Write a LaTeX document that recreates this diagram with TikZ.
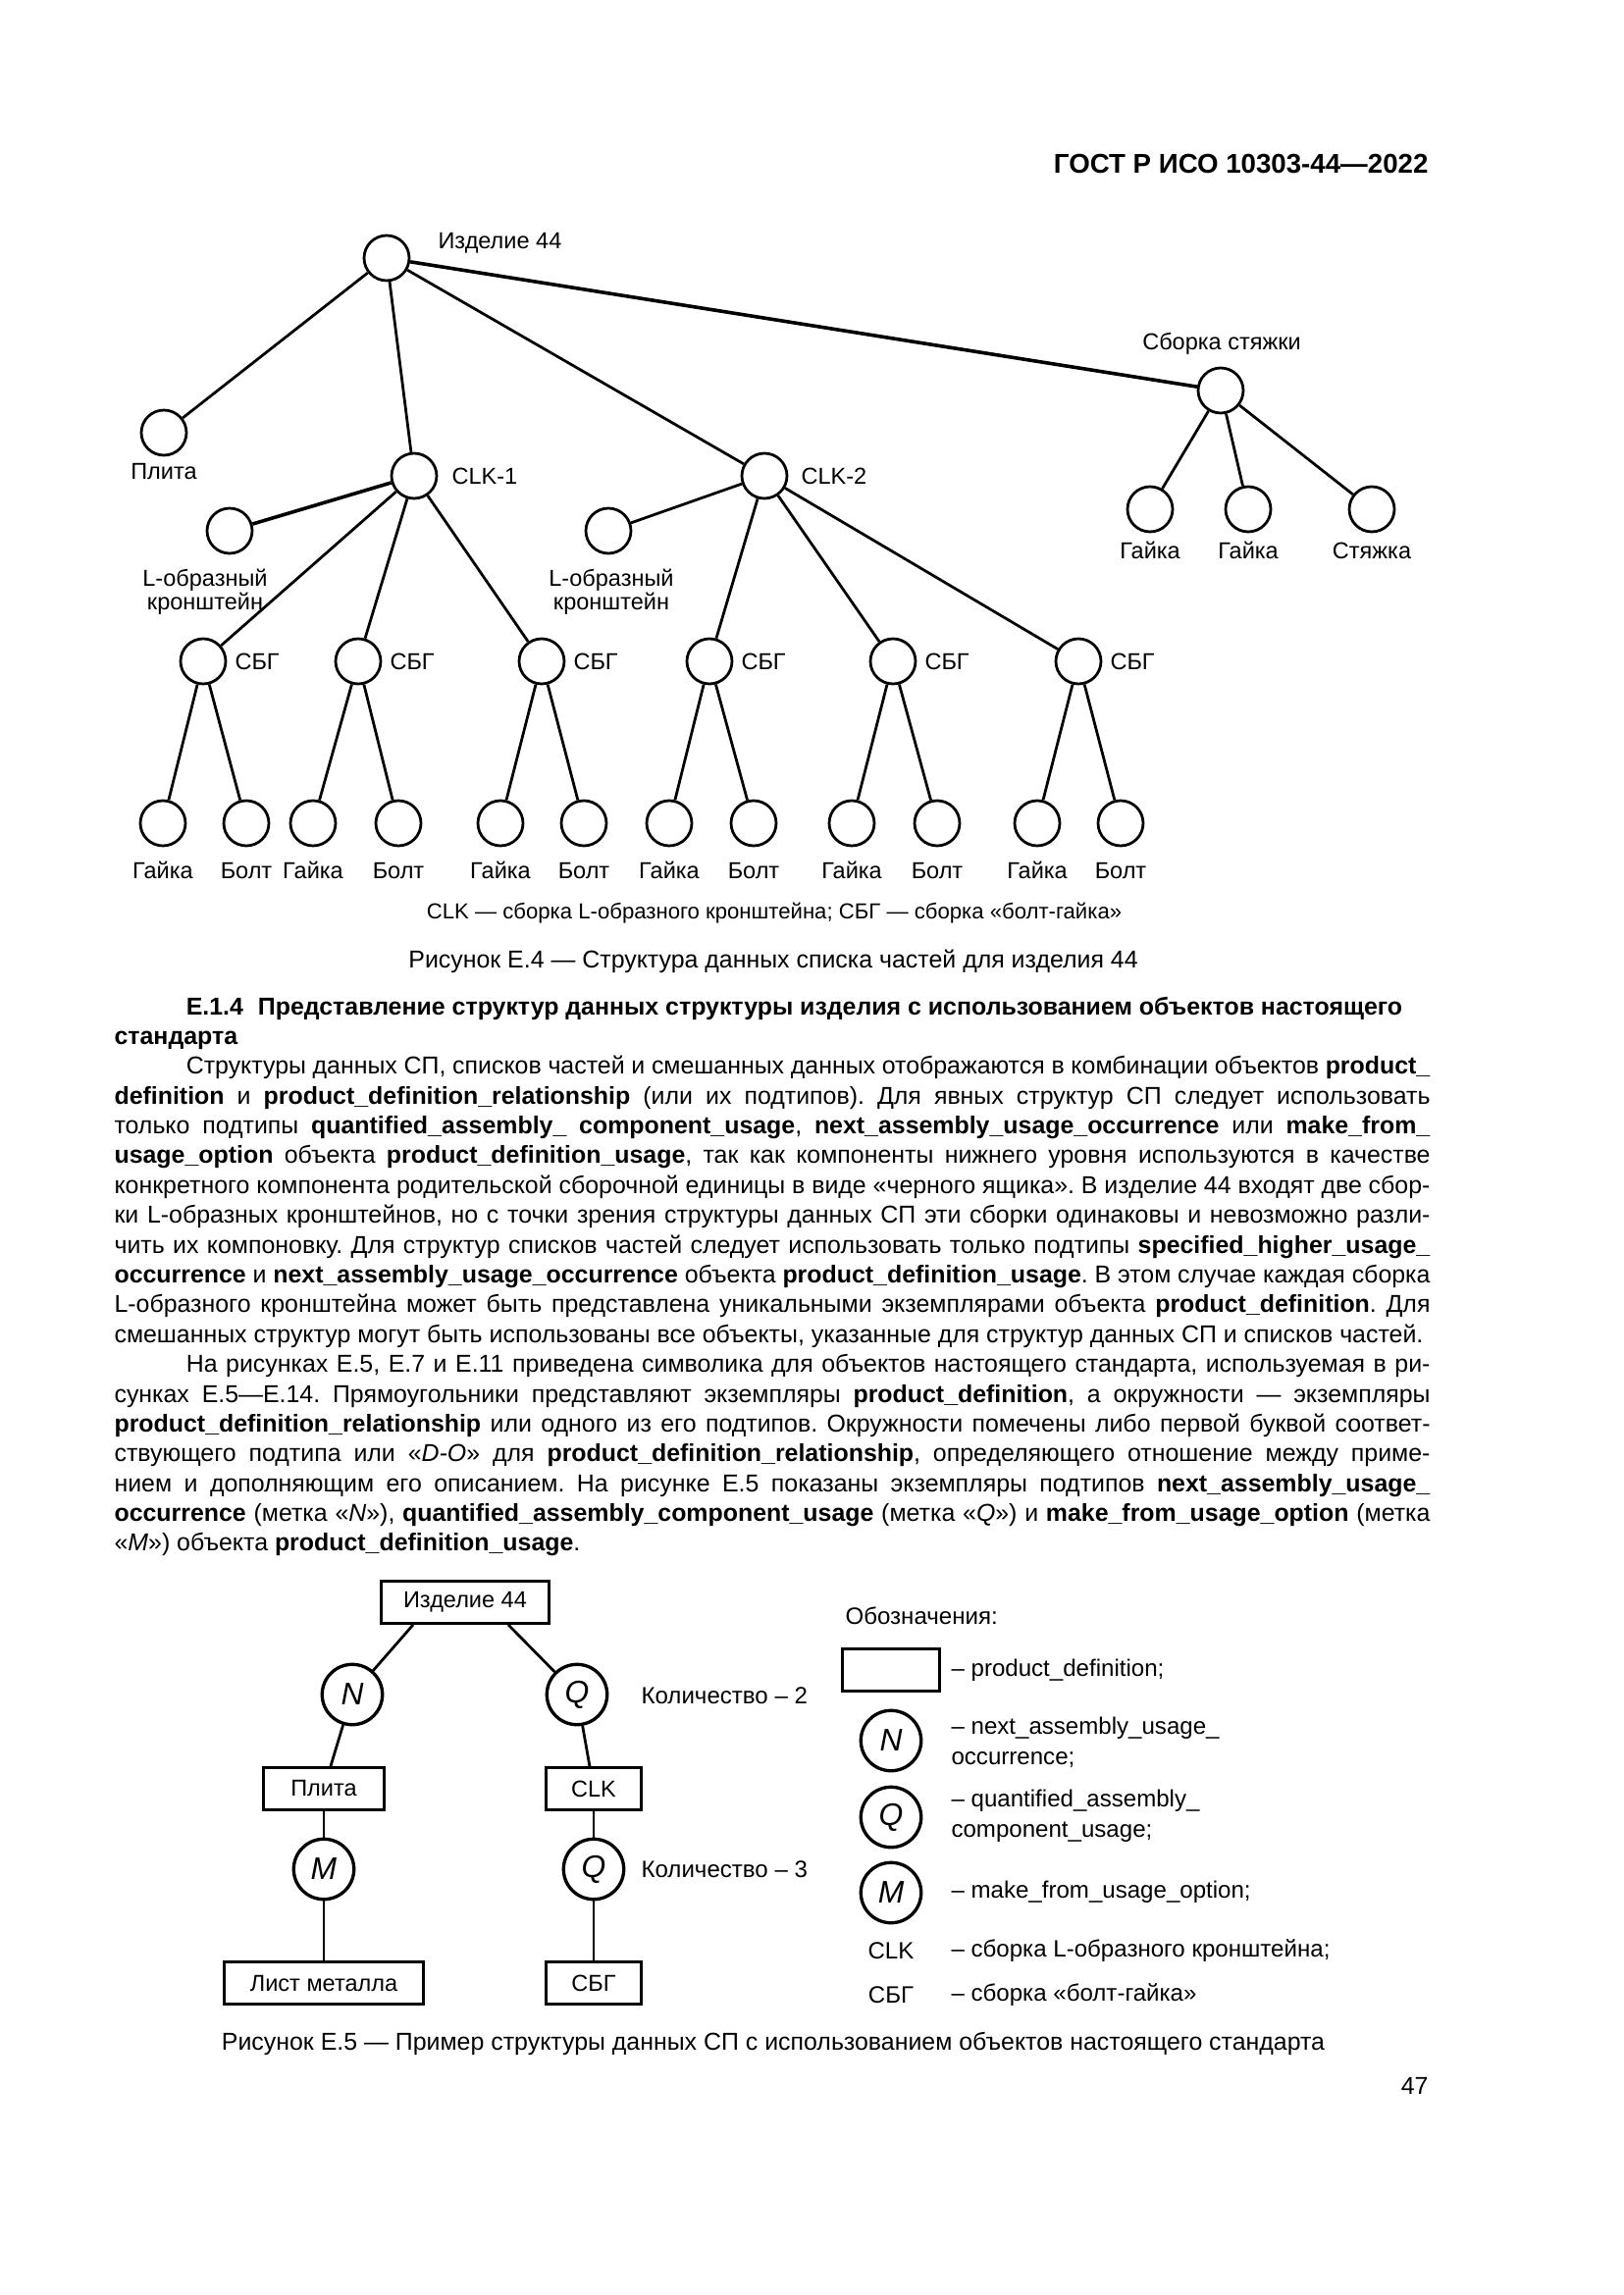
\documentclass[tikz,border=0pt]{standalone}
\usepackage{fontspec}
\setmainfont{Liberation Sans}
\usetikzlibrary{calc}
\frenchspacing

\begin{document}
\begin{tikzpicture}[
    x=0.127mm, y=-0.127mm,
    part/.style={circle, draw, line width=1pt, minimum size=5.84mm, inner sep=0pt},
    link/.style={line width=1pt},
    lbl/.style={font=\fontsize{8.5}{8.7}\selectfont, inner sep=0pt},
    pd/.style={rectangle, draw, line width=1.2pt, minimum height=5.4mm,
               inner sep=0pt, font=\fontsize{8.5}{8.7}\selectfont},
    rel/.style={circle, draw, line width=1.2pt, minimum size=7.8mm,
                inner sep=0pt, font=\fontsize{11.5}{12}\selectfont\itshape},
    key/.style={font=\fontsize{8.7}{11.3}\selectfont, inner sep=0pt, anchor=west, align=left}
  ]
  \useasboundingbox[fill=white] (0,0) rectangle (1654,2339);
  \node[anchor=base east, inner sep=0pt, font=\fontsize{10}{12}\selectfont\bfseries] (hdr) at (1456,177)
    {ГОСТ Р ИСО 10303-44—2022};

  % Figure E.4: top level
  \node[part] (root) at (394,263) {};
  \node[lbl, anchor=base west] at (446,254) {Изделие 44};
  \node[part] (plita) at (167,441) {};
  \node[lbl, anchor=base] at (167,489) {Плита};
  \node[part] (clk1) at (422,485) {};
  \node[lbl, anchor=base west] at (460,494) {CLK-1};
  \node[part] (clk2) at (779,485) {};
  \node[lbl, anchor=base west] at (816,494) {CLK-2};
  \node[part] (stj) at (1244,398) {};
  \node[lbl, anchor=base] at (1245,357) {Сборка стяжки};
  \draw[link] (root)--(plita); \draw[link] (root)--(clk1);
  \draw[link] (root)--(clk2); \draw[link, line width=1.3pt] (root)--(stj);

  % Tie-rod assembly
  \foreach \x/\n/\t in {1172/g1/Гайка,1272/g2/Гайка,1398/st/Стяжка} {
    \node[part] (stj-\n) at (\x,519) {};
    \node[lbl, anchor=base] at (\x,570) {\t};
    \draw[link] (stj)--(stj-\n);
  }

  % L-brackets
  \node[part] (lb1) at (234,541) {};
  \node[lbl, anchor=base, align=center] at (209,622) {L-образный\\кронштейн};
  \node[part] (lb2) at (620,541) {};
  \node[lbl, anchor=base, align=center] at (623,622) {L-образный\\кронштейн};
  \draw[link, line width=1.3pt] (clk1)--(lb1); \draw[link] (clk2)--(lb2);

  % Bolt-nut assemblies and their parts
  \foreach \i/\x/\p/\a/\b in {1/207/clk1/166/251, 2/365/clk1/319/406, 3/552/clk1/510/595,
                              4/723/clk2/682/768, 5/910/clk2/868/955, 6/1099/clk2/1057/1142} {
    \node[part] (sbg\i) at (\x,674) {};
    \node[lbl, anchor=west] at (\x+32,674) {СБГ};
    \draw[link] (\p)--(sbg\i);
    \node[part] (nut\i) at (\a,839) {};
    \node[part] (bolt\i) at (\b,839) {};
    \draw[link] (sbg\i)--(nut\i); \draw[link] (sbg\i)--(bolt\i);
    \node[lbl, anchor=base] at (\a,895) {Гайка};
    \node[lbl, anchor=base] at (\b,895) {Болт};
  }

  \node[anchor=base, inner sep=0pt, font=\fontsize{8}{10}\selectfont] (note4) at (789,936)
    {CLK — сборка L-образного кронштейна; СБГ — сборка «болт-гайка»};
  \node[anchor=base, inner sep=0pt, font=\fontsize{9}{11}\selectfont] (cap4) at (788,986)
    {Рисунок Е.4 — Структура данных списка частей для изделия 44};

  % Text
  \node[anchor=base west, inner sep=0pt, text width=170.3mm, align=justify,
        font=\fontsize{9}{10.98}\selectfont] (body) at (116,1034) {%
    \tolerance=9999 \hspace*{9.3mm}\textbf{Е.1.4\hspace{0.6em}Представление структур данных структуры изделия с использованием объектов настоящего}\\
    \textbf{стандарта}\par
    \hspace*{9.3mm}Структуры данных СП, списков частей и смешанных данных отображаются в комбинации объектов \textbf{product\_}\linebreak
    \textbf{definition} и \textbf{product\_definition\_relationship} (или их подтипов). Для явных структур СП следует использовать\linebreak
    только подтипы \textbf{quantified\_assembly\_ component\_usage}, \textbf{next\_assembly\_usage\_occurrence} или \textbf{make\_from\_}\linebreak
    \textbf{usage\_option} объекта \textbf{product\_definition\_usage}, так как компоненты нижнего уровня используются в качестве\linebreak
    конкретного компонента родительской сборочной единицы в виде «черного ящика». В изделие 44 входят две сбор-\linebreak
    ки L-образных кронштейнов, но с точки зрения структуры данных СП эти сборки одинаковы и невозможно разли-\linebreak
    чить их компоновку. Для структур списков частей следует использовать только подтипы \textbf{specified\_higher\_usage\_}\linebreak
    \textbf{occurrence} и \textbf{next\_assembly\_usage\_occurrence} объекта \textbf{product\_definition\_usage}. В этом случае каждая сборка\linebreak
    L-образного кронштейна может быть представлена уникальными экземплярами объекта \textbf{product\_definition}. Для\linebreak
    смешанных структур могут быть использованы все объекты, указанные для структур данных СП и списков частей.\par
    \hspace*{9.3mm}На рисунках Е.5, Е.7 и Е.11 приведена символика для объектов настоящего стандарта, используемая в ри-\linebreak
    сунках Е.5—Е.14. Прямоугольники представляют экземпляры \textbf{product\_definition}, а окружности — экземпляры\linebreak
    \textbf{product\_definition\_relationship} или одного из его подтипов. Окружности помечены либо первой буквой соответ-\linebreak
    ствующего подтипа или «\textit{D-O}» для \textbf{product\_definition\_relationship}, определяющего отношение между приме-\linebreak
    нием и дополняющим его описанием. На рисунке Е.5 показаны экземпляры подтипов \textbf{next\_assembly\_usage\_}\linebreak
    \textbf{occurrence} (метка «\textit{N}»), \textbf{quantified\_assembly\_component\_usage} (метка «\textit{Q}») и \textbf{make\_from\_usage\_option} (метка\linebreak
    «\textit{M}») объекта \textbf{product\_definition\_usage}.};

  % Figure E.5
  \node[pd, minimum width=21.8mm] (izd) at (474,1633) {Изделие 44};
  \node[rel] (n) at (359,1727) {N};
  \node[rel] (q1) at (588,1727) {Q};
  \node[lbl, anchor=west, font=\fontsize{8.7}{11}\selectfont] at (653,1728) {Количество – 2};
  \node[pd, minimum width=15.7mm] (plita2) at (330,1823) {Плита};
  \node[pd, minimum width=12.3mm] (clk) at (605,1823) {CLK};
  \node[rel] (m) at (330,1905) {M};
  \node[rel] (q2) at (605,1905) {Q};
  \node[lbl, anchor=west, font=\fontsize{8.7}{11}\selectfont] at (653,1905) {Количество – 3};
  \node[pd, minimum width=25.8mm] (list) at (330,2021) {Лист металла};
  \node[pd, minimum width=12.3mm] (sbg) at (605,2021) {СБГ};
  \draw[link] ($(izd.south)+(-53,0)$) -- (n);
  \draw[link] ($(izd.south)+(44,0)$) -- (q1);
  \draw[link] (n)--(plita2); \draw[link] (plita2)--(m); \draw[link] (m)--(list);
  \draw[link] (q1)--(clk); \draw[link] (clk)--(q2); \draw[link] (q2)--(sbg);

  % Legend
  \node[key] at (861,1647) {Обозначения:};
  \node[pd, minimum width=12.6mm] (key-pd) at (908,1702) {};
  \node[key] at (969,1702) {– product\_definition;};
  \node[rel] (key-n) at (908,1774) {N};
  \node[key] at (969,1776) {– next\_assembly\_usage\_\\occurrence;};
  \node[rel] (key-q) at (908,1852) {Q};
  \node[key] at (969,1851) {– quantified\_assembly\_\\component\_usage;};
  \node[rel] (key-m) at (908,1929) {M};
  \node[key] at (969,1928) {– make\_from\_usage\_option;};
  \node[key, anchor=center] at (908,1988) {CLK};
  \node[key] at (969,1988) {– сборка L-образного кронштейна;};
  \node[key, anchor=center] at (908,2033) {СБГ};
  \node[key] at (969,2033) {– сборка «болт-гайка»};

  \node[anchor=base, inner sep=0pt, font=\fontsize{9}{11}\selectfont] (cap5) at (788,2089)
    {Рисунок Е.5 — Пример структуры данных СП с использованием объектов настоящего стандарта};
  \node[anchor=base east, inner sep=0pt, font=\fontsize{9}{11}\selectfont] (page) at (1456,2134) {47};
\end{tikzpicture}
\end{document}
